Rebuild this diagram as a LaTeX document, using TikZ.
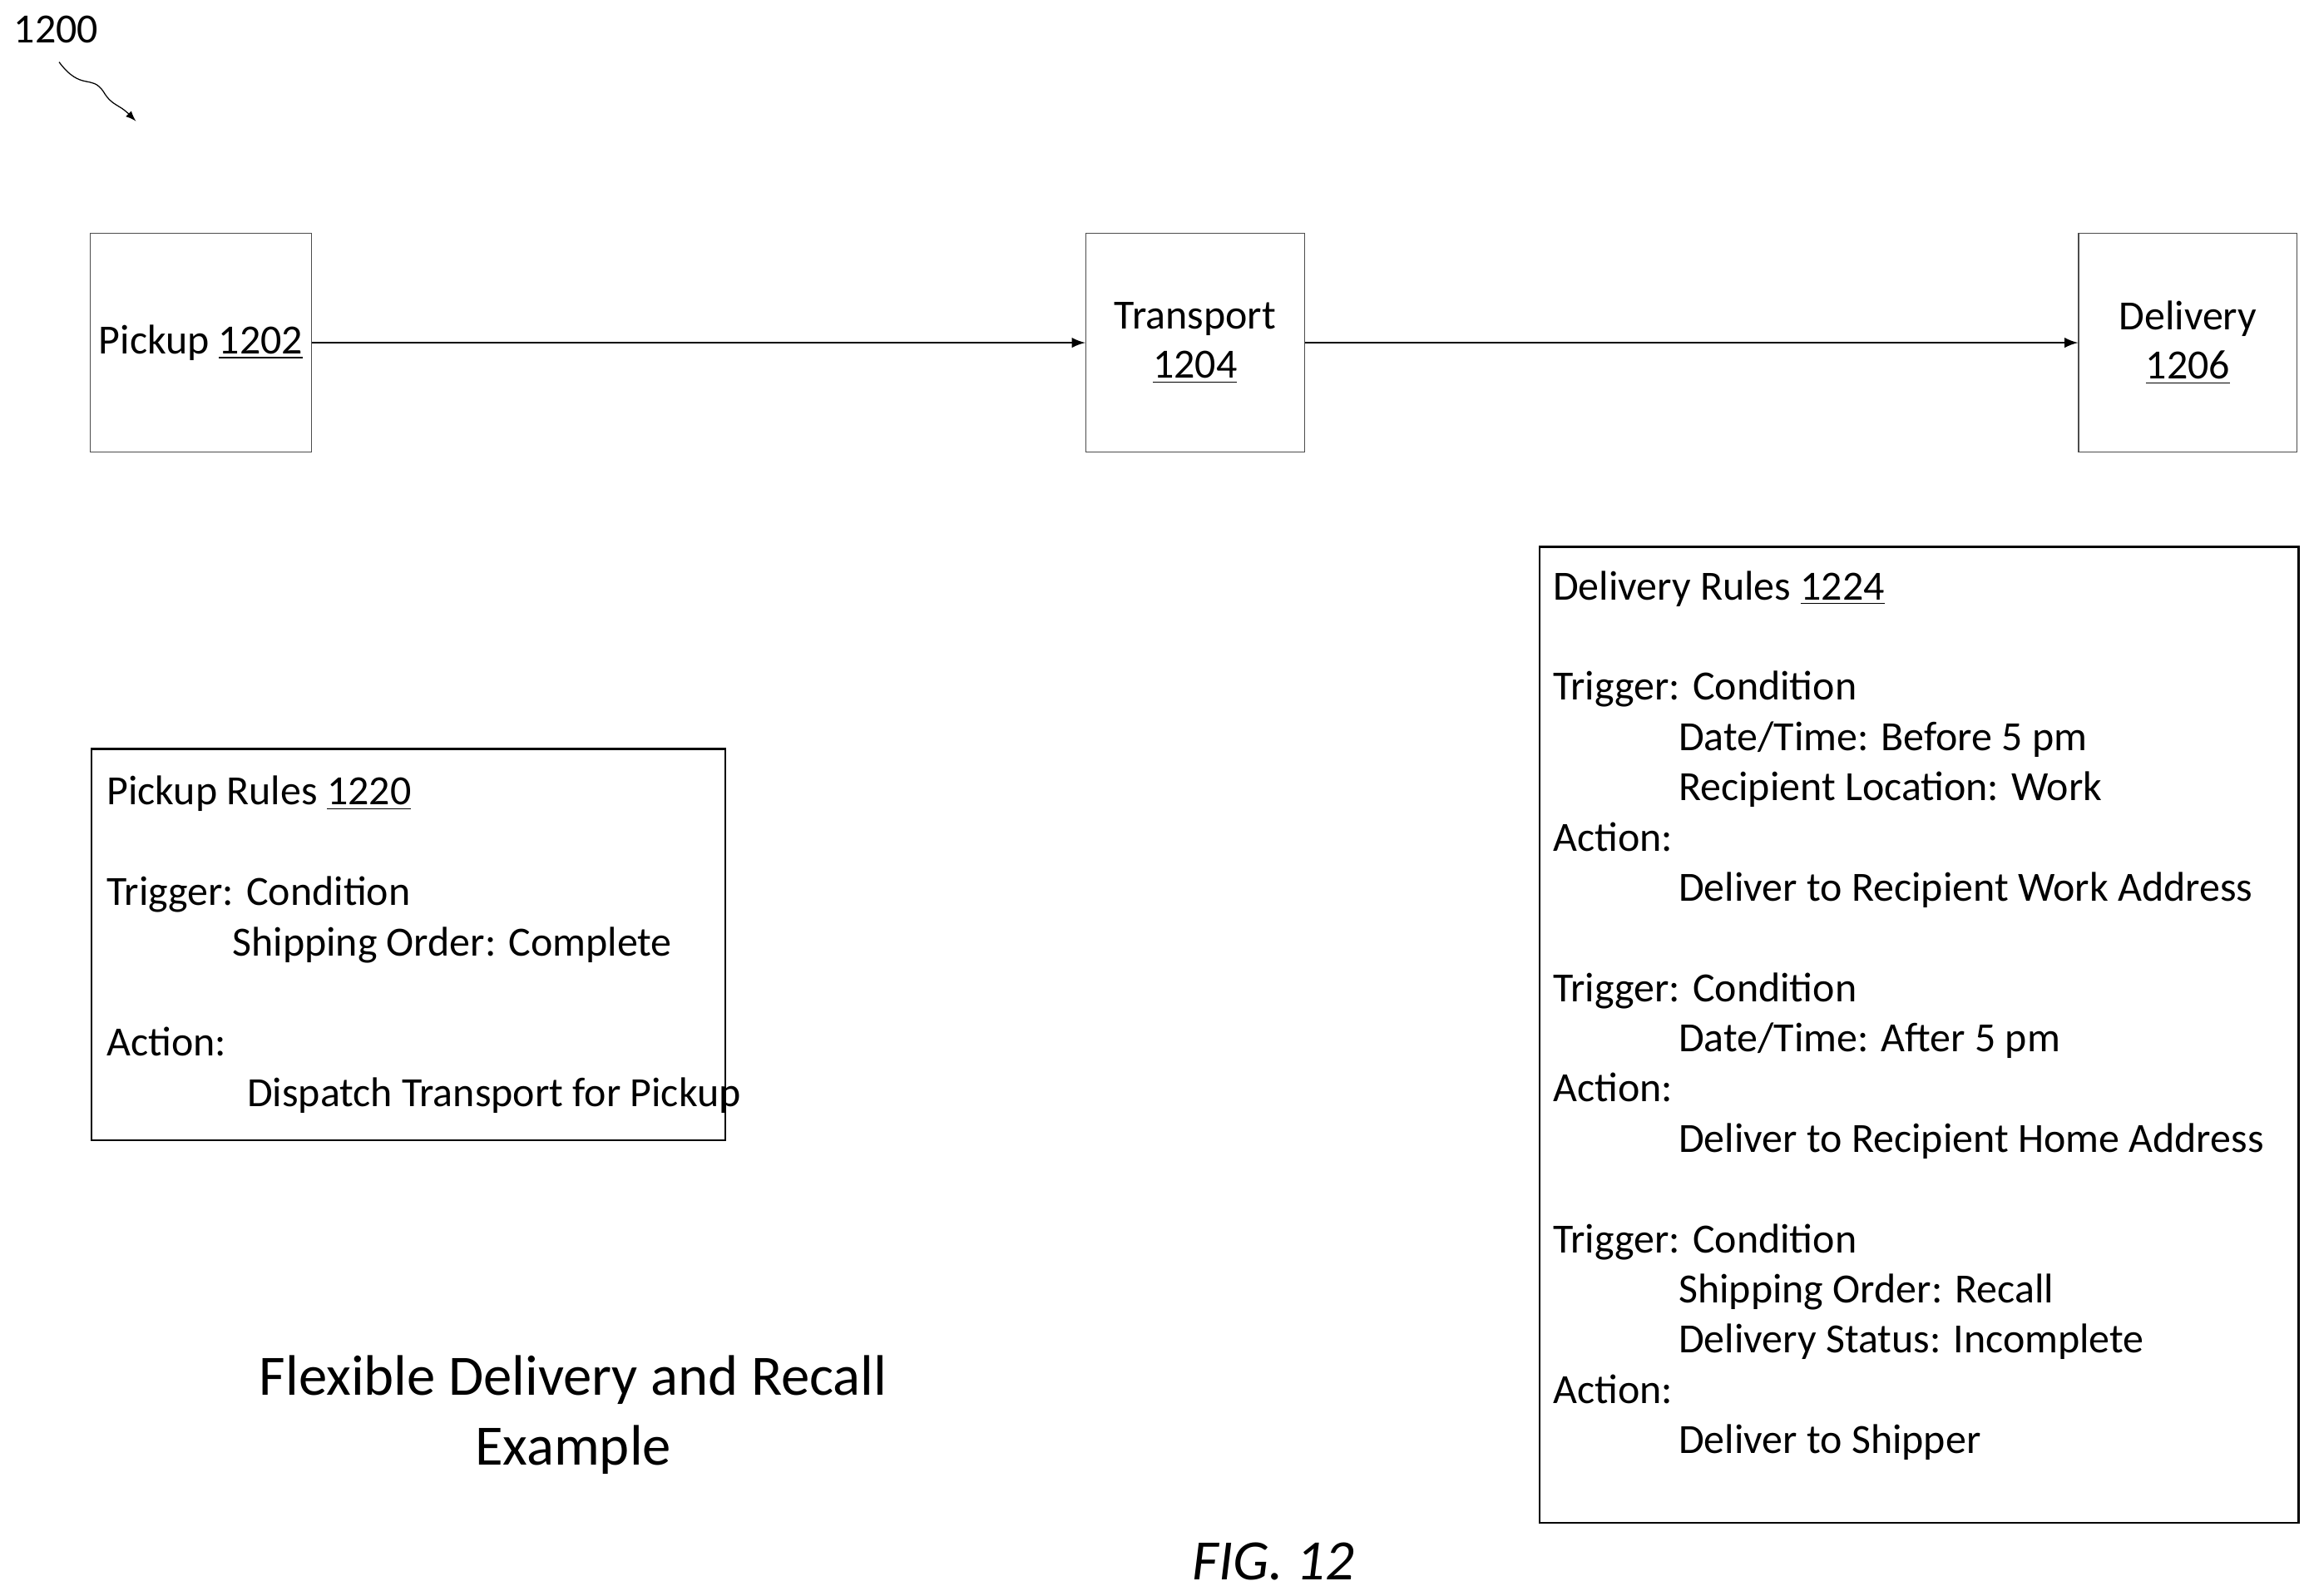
\documentclass[tikz,border=0pt]{standalone}
\usepackage{fontspec}
\setmainfont{Carlito}
\usetikzlibrary{arrows, positioning}
\tikzstyle{stage} = [rectangle, draw=black!70, minimum width=2.96cm, minimum height=2.96cm, align=center, font=\fontsize{16}{19}\selectfont]
\tikzstyle{rules} = [rectangle, draw=black, thick]
\tikzstyle{line} = [anchor=base west, inner sep=0pt, font=\fontsize{16}{19}\selectfont]
\tikzstyle{arrow} = [thick,->,>=latex]
\begin{document}
\begin{tikzpicture}[x=0.02cm, y=-0.02cm]
    \useasboundingbox (0,0) rectangle (1563,1080);
    % Stages
    \node (pickup) [stage] at (136,232) {Pickup \underline{1202}};
    \node (transport) [stage] at (809,232) {Transport\\\underline{1204}};
    \node (delivery) [stage] at (1481,232) {Delivery\\\underline{1206}};
    \draw [arrow] (pickup) -- (transport);
    \draw [arrow] (transport) -- (delivery);

    % Figure reference
    \node (ref) [font=\fontsize{16}{19}\selectfont] at (38,20) {1200};
    \coordinate (refend) at (92,82);
    \draw [arrow, thin] (40,42) .. controls (55,62) and (62,50) .. (70,62) .. controls (76,72) and (80,70) .. (refend);

    % Pickup rules
    \node (pickuprules) [rules, minimum width=8.58cm, minimum height=5.3cm] at (276.5,639.5) {};
    \node (p1) [line] at (72,545) {Pickup Rules \underline{1220}};
    \node (p2) [line] at (72,613) {Trigger: Condition};
    \node (p3) [line] at (157,647) {Shipping Order: Complete};
    \node (p4) [line] at (72,715) {Action:};
    \node (p5) [line] at (167,749) {Dispatch Transport for Pickup};

    % Delivery rules
    \node (deliveryrules) [rules, minimum width=10.28cm, minimum height=13.22cm] at (1299,700.5) {};
    \foreach \y/\x/\txt [count=\i] in {
        406/1051/{Delivery Rules \underline{1224}},
        474/1051/{Trigger: Condition},
        508/1136/{Date/Time: Before 5 pm},
        542/1136/{Recipient Location: Work},
        576/1051/{Action:},
        610/1136/{Deliver to Recipient Work Address},
        678/1051/{Trigger: Condition},
        712/1136/{Date/Time: After 5 pm},
        746/1051/{Action:},
        780/1136/{Deliver to Recipient Home Address},
        848/1051/{Trigger: Condition},
        882/1136/{Shipping Order: Recall},
        916/1136/{Delivery Status: Incomplete},
        950/1051/{Action:},
        984/1136/{Deliver to Shipper}}
        \node (d\i) [line] at (\x,\y) {\txt};

    % Caption
    \node (title) [align=center, font=\fontsize{22}{27}\selectfont] at (388,958) {Flexible Delivery and Recall\\Example};
    \node (fig) [font=\fontsize{22}{26}\selectfont\itshape] at (862,1057) {FIG. 12};
\end{tikzpicture}
\end{document}
